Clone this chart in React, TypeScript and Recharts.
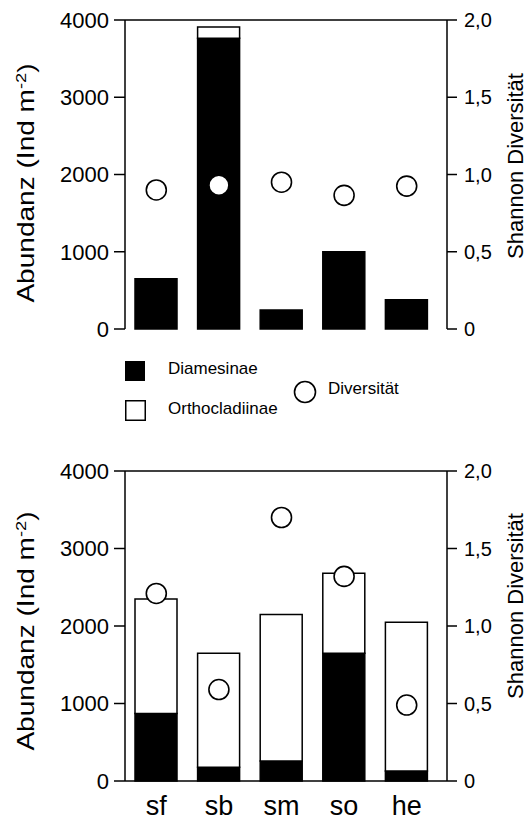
import React from "react";
import { ComposedChart, Bar, Scatter, XAxis, YAxis, ReferenceLine } from "recharts";

const categories = ["sf", "sb", "sm", "so", "he"];

const topDiamesinae = [650, 3765, 245, 1000, 380];
const topOrthocladiinae = [0, 145, 0, 0, 0];
const topDiversity = [0.9, 0.93, 0.95, 0.865, 0.925];

const bottomDiamesinae = [870, 178, 258, 1650, 128];
const bottomOrthocladiinae = [1480, 1472, 1892, 1030, 1922];
const bottomDiversity = [1.21, 0.59, 1.7, 1.32, 0.49];

const abundanceTicks = [0, 1000, 2000, 3000, 4000];
const diversityTicks = [0, 0.5, 1, 1.5, 2];

const FONT = "'Liberation Sans', Arial, Helvetica, sans-serif";
const INK = "#000";

const build = (d: number[], o: number[], s: number[]) =>
  categories.map((c, i) => ({ cat: c, diam: d[i], ortho: o[i], div: s[i] }));

const topData = build(topDiamesinae, topOrthocladiinae, topDiversity);
const bottomData = build(bottomDiamesinae, bottomOrthocladiinae, bottomDiversity);

const fmtDiv = (v: number) => (v === 0 ? "0" : v.toFixed(1).replace(".", ","));

const CircleShape = (p: any) => (
  <circle cx={p.cx} cy={p.cy} r={10} fill="#fff" stroke={INK} strokeWidth={1.6} />
);

function Panel({
  data,
  height,
  margin,
  xHeight,
  showX,
}: {
  data: any[];
  height: number;
  margin: any;
  xHeight: number;
  showX: boolean;
}) {
  return (
    <ComposedChart width={528} height={height} data={data} margin={margin} barSize={42}>
      <XAxis
        dataKey="cat"
        height={xHeight}
        padding={{ left: 0, right: 9 }}
        axisLine={{ stroke: INK, strokeWidth: 1.5 }}
        tickLine={false}
        tick={showX ? { fontSize: 27, fill: INK, fontFamily: FONT } : false}
        tickSize={8}
        tickMargin={7}
        interval={0}
      />
      <YAxis
        yAxisId="left"
        orientation="left"
        width={125}
        domain={[0, 4000]}
        ticks={abundanceTicks}
        interval={0}
        axisLine={{ stroke: INK, strokeWidth: 1.5 }}
        tickLine={{ stroke: INK, strokeWidth: 1.5 }}
        tickSize={11}
        tickMargin={5}
        tick={{ fontSize: 22, fill: INK, fontFamily: FONT }}
      />
      <YAxis
        yAxisId="right"
        orientation="right"
        width={81}
        domain={[0, 2]}
        ticks={diversityTicks}
        interval={0}
        tickFormatter={fmtDiv}
        axisLine={{ stroke: INK, strokeWidth: 1.5 }}
        tickLine={{ stroke: INK, strokeWidth: 1.5 }}
        tickSize={10}
        tickMargin={7}
        tick={{ fontSize: 20, fill: INK, fontFamily: FONT }}
      />
      <ReferenceLine yAxisId="left" y={4000} stroke={INK} strokeWidth={1.5} />
      <Bar
        yAxisId="left"
        dataKey="diam"
        name="Diamesinae"
        stackId="a"
        fill={INK}
        stroke={INK}
        strokeWidth={1.5}
        isAnimationActive={false}
      />
      <Bar
        yAxisId="left"
        dataKey="ortho"
        name="Orthocladiinae"
        stackId="a"
        fill="#fff"
        stroke={INK}
        strokeWidth={1.5}
        isAnimationActive={false}
      />
      <Scatter
        yAxisId="right"
        dataKey="div"
        name="Diversität"
        shape={CircleShape}
        isAnimationActive={false}
      />
    </ComposedChart>
  );
}

function LeftTitle({ x, y }: { x: number; y: number }) {
  return (
    <text
      transform={`translate(${x},${y}) rotate(-90) scale(1.22,1)`}
      textAnchor="middle"
      fontFamily={FONT}
      fontSize={23}
      fill={INK}
    >
      Abundanz (Ind m
      <tspan dy={-8} fontSize={15}>
        -2
      </tspan>
      <tspan dy={8}>)</tspan>
    </text>
  );
}

function RightTitle({ x, y }: { x: number; y: number }) {
  return (
    <text
      transform={`translate(${x},${y}) rotate(-90)`}
      textAnchor="middle"
      fontFamily={FONT}
      fontSize={22}
      fill={INK}
    >
      Shannon Diversität
    </text>
  );
}

export default function App() {
  return (
    <div
      style={{
        position: "absolute",
        left: 0,
        top: 0,
        width: 528,
        height: 820,
        background: "#fff",
        overflow: "hidden",
      }}
    >
      <div style={{ position: "absolute", left: 0, top: 0 }}>
        <Panel
          data={topData}
          height={345}
          margin={{ top: 20, right: 0, bottom: 16, left: 0 }}
          xHeight={0}
          showX={false}
        />
      </div>
      <div style={{ position: "absolute", left: 0, top: 440 }}>
        <Panel
          data={bottomData}
          height={380}
          margin={{ top: 31, right: 0, bottom: 0, left: 0 }}
          xHeight={39}
          showX={true}
        />
      </div>
      <svg
        width={528}
        height={820}
        style={{ position: "absolute", left: 0, top: 0, pointerEvents: "none" }}
      >
        <LeftTitle x={34} y={183} />
        <RightTitle x={523} y={166} />
        <LeftTitle x={34} y={631} />
        <RightTitle x={523} y={606} />

        <rect x={125} y={361} width={20} height={20} fill={INK} />
        <text x={168} y={374} fontFamily={FONT} fontSize={17} fill={INK}>
          Diamesinae
        </text>
        <rect x={125.75} y={400.75} width={19.5} height={19.5} fill="#fff" stroke={INK} strokeWidth={1.5} />
        <text x={168} y={414} fontFamily={FONT} fontSize={17} fill={INK}>
          Orthocladiinae
        </text>
        <circle cx={305} cy={392} r={10.5} fill="#fff" stroke={INK} strokeWidth={1.6} />
        <text x={328} y={394} fontFamily={FONT} fontSize={17} fill={INK}>
          Diversität
        </text>
      </svg>
    </div>
  );
}
